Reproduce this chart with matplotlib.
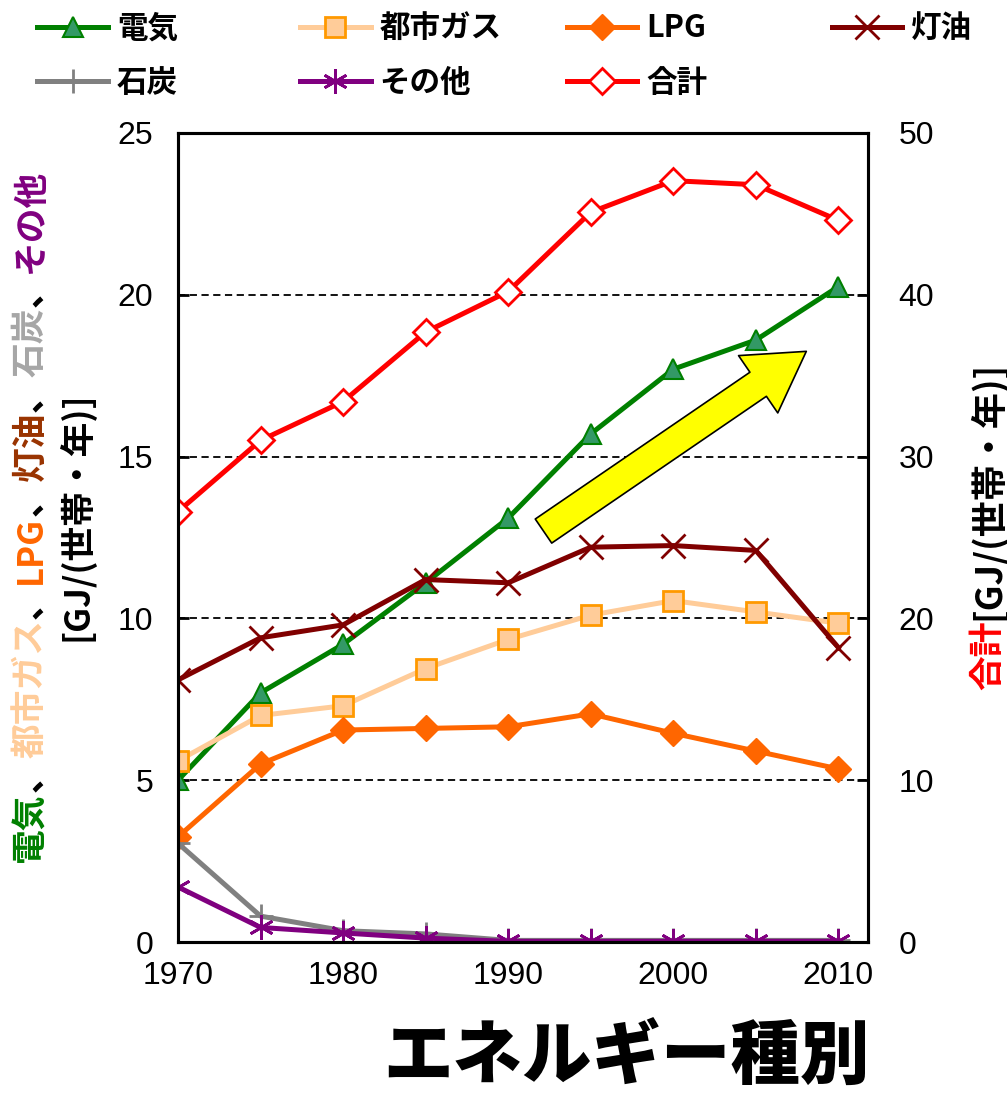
import matplotlib
matplotlib.use("Agg")
import matplotlib.pyplot as plt
from matplotlib.patches import FancyArrowPatch

# Data
years = [1970, 1975, 1980, 1985, 1990, 1995, 2000, 2005, 2010]
electricity = [5.0, 7.7, 9.2, 11.1, 13.1, 15.7, 17.7, 18.6, 20.25]
city_gas = [5.6, 7.0, 7.3, 8.45, 9.35, 10.1, 10.55, 10.2, 9.85]
lpg = [3.25, 5.5, 6.55, 6.6, 6.65, 7.05, 6.45, 5.9, 5.35]
kerosene = [8.1, 9.4, 9.8, 11.2, 11.1, 12.2, 12.25, 12.1, 9.1]
coal = [3.05, 0.8, 0.35, 0.25, 0.05, 0.05, 0.05, 0.05, 0.05]
other = [1.7, 0.45, 0.28, 0.12, 0.02, 0.02, 0.02, 0.02, 0.02]
total = [26.6, 31.0, 33.4, 37.7, 40.2, 45.1, 47.05, 46.8, 44.6]

left_ticks = [0, 5, 10, 15, 20, 25]
right_ticks = [0, 10, 20, 30, 40, 50]
x_ticks = [1970, 1980, 1990, 2000, 2010]

JP = ["Noto Sans CJK JP", "DejaVu Sans"]
NUM = ["Liberation Sans", "DejaVu Sans"]
NARROW = ["Liberation Sans Narrow", "Liberation Sans", "DejaVu Sans"]

fig = plt.figure(figsize=(10.07, 10.96), dpi=100)
ax = fig.add_axes([0.1768, 0.1405, 0.6852, 0.7382])
ax2 = ax.twinx()

lw = 3.6
ms = 15
h = []
h += ax.plot(years, electricity, color="#008000", lw=lw, marker="^", ms=ms,
             mfc="#339966", mec="#008000", mew=1.5, label="電気")
h += ax.plot(years, city_gas, color="#FFCC99", lw=lw, marker="s", ms=ms - 1,
             mfc="#FFCC99", mec="#FF9900", mew=2, label="都市ガス")
h += ax.plot(years, lpg, color="#FF6600", lw=lw, marker="D", ms=ms - 2,
             mfc="#FF6600", mec="#FF6600", label="LPG")
h += ax.plot(years, kerosene, color="#800000", lw=lw, marker="x", ms=ms + 2,
             mew=2, label="灯油")
h += ax.plot(years, coal, color="#808080", lw=lw, marker="+", ms=ms + 2,
             mew=2, label="石炭")
h += ax.plot(years, other, color="#800080", lw=lw, marker=(6, 2, 0), ms=ms + 3,
             mew=2, label="その他")
h += ax2.plot(years, total, color="#FF0000", lw=lw, marker="D", ms=ms - 2,
              mfc="white", mec="#FF0000", mew=2, label="合計")

ax.set_xlim(1970, 2011.8)
ax.set_ylim(0, 25)
ax2.set_ylim(0, 50)
ax.set_xticks(x_ticks)
ax.set_yticks(left_ticks)
ax2.set_yticks(right_ticks)
ax.set_xticklabels([str(v) for v in x_ticks], family=NARROW, fontsize=23)
ax.set_yticklabels([str(v) for v in left_ticks], family=NUM, fontsize=23)
ax2.set_yticklabels([str(v) for v in right_ticks], family=NUM, fontsize=23)

for g in [5, 10, 15, 20]:
    ax.axhline(g, color="black", lw=1.3, ls=(0, (4, 2.5)), zorder=0.5)

for a in (ax, ax2):
    for s in a.spines.values():
        s.set_linewidth(2.2)
ax.tick_params(axis="y", direction="in", length=8, width=2, pad=18)
ax.tick_params(axis="x", length=0, pad=14)
ax2.tick_params(axis="y", direction="in", length=8, width=2, pad=22)

# Yellow trend arrow
arrow = FancyArrowPatch((1992.0, 12.65), (2008.2, 18.3),
                        arrowstyle="simple,head_width=2.5,head_length=2.1,tail_width=1.05",
                        mutation_scale=20, fc="#FFFF00", ec="black", lw=1.2, zorder=5)
ax.add_patch(arrow)

# Legend, one block per column
cols = [[0, 4], [1, 5], [2, 6], [3]]
xs = [0.025, 0.286, 0.551, 0.814]
for c, x0 in zip(cols, xs):
    fig.legend([h[i] for i in c], [h[i].get_label() for i in c],
               loc="upper left", bbox_to_anchor=(x0, 1.0), frameon=False,
               prop={"family": JP, "size": 22, "weight": "bold"},
               handlelength=2.3, handletextpad=0.3, labelspacing=0.75,
               borderaxespad=0)

# Left y label, multi-coloured
pieces = [("電気", "#008000"), ("、", "black"), ("都市ガス", "#FFCC99"),
          ("、", "black"), ("LPG", "#FF6600"), ("、", "black"),
          ("灯油", "#993300"), ("、", "black"), ("石炭", "#A6A6A6"),
          ("、", "black"), ("その他", "#800080")]
prev = fig.text(30 / 1007, 1 - 862 / 1096, pieces[0][0], color=pieces[0][1],
                rotation=90, ha="center", va="bottom", family=JP,
                fontsize=25, fontweight="bold")
for txt, col in pieces[1:]:
    prev = ax.annotate(txt, xy=(0.5, 1), xycoords=prev, ha="center", va="bottom",
                       rotation=90, color=col, family=JP, fontsize=25,
                       fontweight="bold", annotation_clip=False)
fig.text(77 / 1007, 1 - 516 / 1096, "[GJ/(世帯・年)]", rotation=90,
         ha="center", va="center", family=JP, fontsize=25, fontweight="bold")

# Right y label
t1 = fig.text(988 / 1007, 1 - 690 / 1096, "合計", color="#FF0000", rotation=90,
              ha="center", va="bottom", family=JP, fontsize=25, fontweight="bold")
ax.annotate("[GJ/(世帯・年)]", xy=(0.5, 1), xycoords=t1, ha="center", va="bottom",
            rotation=90, family=JP, fontsize=26, fontweight="bold",
            annotation_clip=False)

# X title
fig.text(870 / 1007, 1 - 1058 / 1096, "エネルギー種別", ha="right", va="center",
         family=JP, fontsize=50, fontweight="black")

fig.savefig("out.png", dpi=100)
